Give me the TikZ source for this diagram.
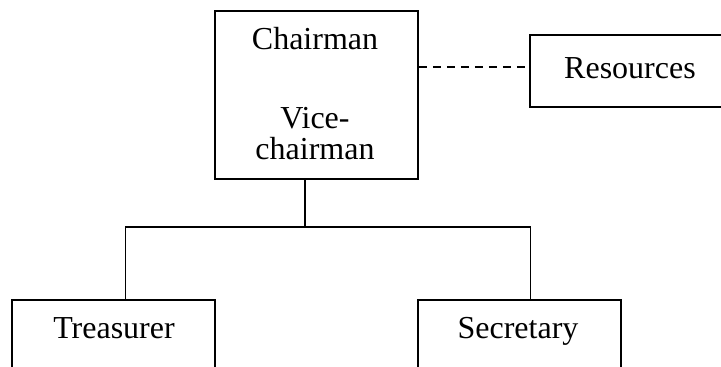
\documentclass[tikz,border=0pt]{standalone}
\usepackage{fontspec}
\setmainfont{Liberation Serif}
\begin{document}
\begin{tikzpicture}[x=0.75pt,y=-0.75pt,
  box/.style={draw=black,line width=1.4pt,rectangle,inner sep=0pt,
    font=\fontsize{24}{28}\selectfont,align=center},
  lbl/.style={inner sep=0pt,anchor=base,font=\fontsize{24}{28}\selectfont},
  conn/.style={draw=black,line width=1.2pt},
  dconn/.style={draw=black,line width=1.2pt,dash pattern=on 6pt off 4.5pt}]
\useasboundingbox (0,0) rectangle (721,367);
\clip (0,0) rectangle (721,367);
\fill[white] (0,0) rectangle (721,367);
\node[box,minimum width=203*0.75pt,minimum height=168*0.75pt] (ch) at (316.5,95) {};
\node[lbl] (cht1) at (315,50) {Chairman};
\node[lbl] (cht2) at (315,129) {Vice-};
\node[lbl] (cht3) at (315,160) {chairman};
\node[box,minimum width=200*0.75pt,minimum height=72*0.75pt] (res) at (630,71) {};
\node[lbl] (rest) at (630,79) {Resources};
\node[box,minimum width=203*0.75pt,minimum height=100*0.75pt,anchor=north] (tr) at (113.5,299) {};
\node[lbl] (trt) at (114,338) {Treasurer};
\node[box,minimum width=203*0.75pt,minimum height=100*0.75pt,anchor=north] (se) at (519.5,299) {};
\node[lbl] (set) at (518,338) {Secretary};
\coordinate (jc) at (305,227);
\coordinate (jl) at (125.5,227);
\coordinate (jr) at (530.5,227);
\coordinate (dy) at (0,67);
\draw[conn] (jc |- ch.south) -- (jc);
\draw[conn] (jl |- tr.north) -- (jl) -- (jr) -- (jr |- se.north);
\draw[dconn] (ch.east |- dy) -- (res.west |- dy);
\end{tikzpicture}
\end{document}
